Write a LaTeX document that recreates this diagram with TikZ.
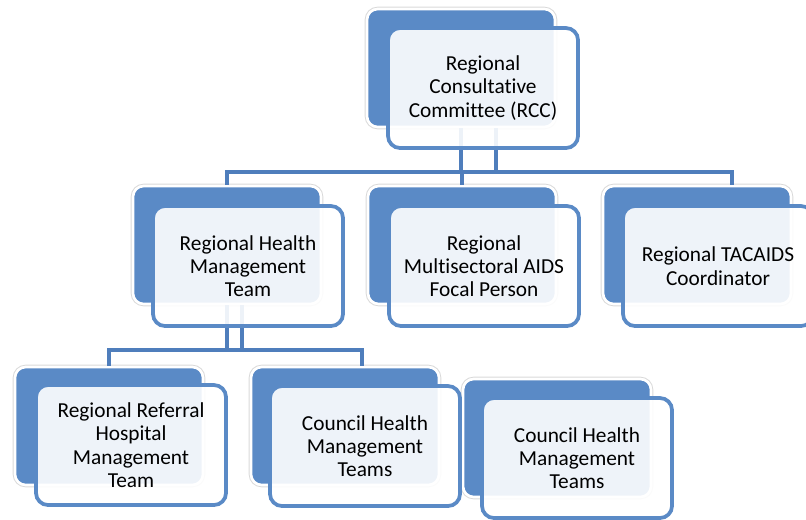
\documentclass[tikz,border=0pt]{standalone}
\usepackage{fontspec}
\setmainfont{Carlito}[Ligatures=CommonOff]
\definecolor{boxblue}{RGB}{90,138,198}
\definecolor{linkblue}{RGB}{79,126,188}
\tikzset{
  back/.style={rectangle, rounded corners=8pt, fill=boxblue, draw=white, line width=2pt,
    preaction={draw=black!15, line width=3.4pt},
    minimum width=141pt, minimum height=88.5pt},
  front/.style={rectangle, rounded corners=9pt, fill=white, fill opacity=0.9, text opacity=1,
    draw=boxblue, line width=2.8pt, minimum width=142.5pt, minimum height=90pt,
    align=center, font=\fontsize{16}{17.5}\selectfont},
  link/.style={draw=linkblue, line width=2.8pt}
}
\begin{document}
\begin{tikzpicture}[x=0.75pt,y=0.75pt,yscale=-1,xscale=1]
\useasboundingbox (0,0) rectangle (806,519);

% back boxes
\node[back] (rccb) at (461,68) {};
\node[back] (rhmtb) at (227,245) {};
\node[back] (multb) at (462,245) {};
\node[back] (tacb) at (697,245) {};
\node[back] (refb) at (109,426) {};
\node[back] (cou1b) at (345,426) {};
\node[back] (cou2b) at (557,438) {};

% connectors
\coordinate (bus1) at (461,172);
\draw[link] (rhmtb.north) |- (bus1) -| ([xshift=26pt]tacb.north);
\draw[link] (rccb.south) -- (bus1);
\draw[link] ([xshift=26pt]rccb.south) -- ([xshift=26pt]rccb.south |- bus1);
\draw[link] (multb.north) -- (multb.north |- bus1);
\coordinate (bus2) at (227,350);
\draw[link] (refb.north) |- (bus2) -| ([xshift=13pt]cou1b.north);
\draw[link] (rhmtb.south) -- (bus2);
\draw[link] ([xshift=11pt]rhmtb.south) -- ([xshift=11pt]rhmtb.south |- bus2);

% front boxes
\node[front] (rcc) at (483,88) {Regional\\Consultative\\Committee (RCC)};
\node[front] (rhmt) at (248,266) {Regional Health\\Management\\Team};
\node[front] (mult) at (484,266) {Regional\\Multisectoral AIDS\\Focal Person};
\node[front] (tac) at (718,266) {Regional TACAIDS\\Coordinator};
\node[front] (ref) at (131,445) {Regional Referral\\Hospital\\Management\\Team};
\node[front] (cou1) at (365,446) {Council Health\\Management\\Teams};
\node[front] (cou2) at (577,458) {Council Health\\Management\\Teams};
\end{tikzpicture}
\end{document}
